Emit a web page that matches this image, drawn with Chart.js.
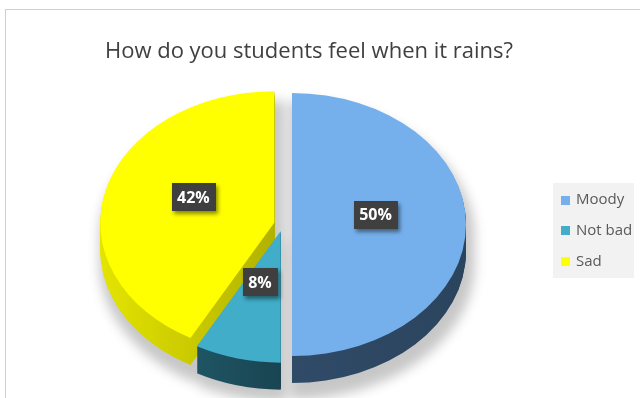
<!DOCTYPE html>
<html>
<head>
<meta charset="utf-8">
<title>How do you students feel when it rains?</title>
<script src="https://cdn.jsdelivr.net/npm/chart.js@4.4.1/dist/chart.umd.min.js"></script>
<style>
  html, body { margin: 0; padding: 0; background: #ffffff; }
  #wrap { position: relative; width: 640px; height: 398px; overflow: hidden; }
  #frame { position: absolute; left: 5px; top: 9px; width: 700px; height: 500px;
           border: 1px solid #cfcfcf; box-sizing: border-box; }
  #c { position: absolute; left: 0; top: 0; }
</style>
</head>
<body>
<div id="wrap">
  <div id="frame"></div>
  <canvas id="c" width="640" height="398"></canvas>
</div>
<script>
// Survey answers (percent of students)
const categories = ['Moody', 'Not bad', 'Sad'];
const shares = [50, 8, 42];
const chartTitle = 'How do you students feel when it rains?';

// Slice colours: top face, and side wall gradient (left -> right)
const topColors = ['#76b0ec', '#41adc8', '#ffff00'];
const sideColors = [['#304b68', '#2b445e'], ['#236777', '#183d4a'], ['#e4e400', '#a8a800']];

// 3D look
const TILT = 0.756;      // vertical squash of the pie disc
const DEPTH = 27;        // thickness of the disc in pixels
const EXPLODE = 9;       // how far each slice is pulled out
const LABEL_POS = 0.48;  // label distance from centre (fraction of radius)
const LABEL_LIFT = 10;

function slicePath(ctx, el) {
  ctx.beginPath();
  ctx.moveTo(el.x, el.y);
  ctx.arc(el.x, el.y, el.outerRadius, el.startAngle, el.endAngle);
  ctx.closePath();
}

function place(ctx, el, drop, explode) {
  const mid = (el.startAngle + el.endAngle) / 2;
  const e = explode === undefined ? EXPLODE : explode;
  ctx.translate(0, drop);
  ctx.translate(el.x, el.y);
  ctx.scale(1, TILT);
  ctx.translate(-el.x, -el.y);
  ctx.translate(Math.cos(mid) * e, Math.sin(mid) * e);
}

const pie3d = {
  id: 'pie3d',
  beforeDatasetDraw(chart, args) {
    const ctx = chart.ctx;
    const arcs = args.meta.data;
    const w = chart.width, h = chart.height;

    // soft floor shadow
    const off = document.createElement('canvas');
    off.width = w; off.height = h;
    const octx = off.getContext('2d');
    octx.fillStyle = '#000';
    arcs.forEach(el => {
      for (let k = 0; k <= DEPTH; k += 3) {
        octx.save(); place(octx, el, k, 3); slicePath(octx, el); octx.fill(); octx.restore();
      }
    });
    const c0 = arcs[0];
    ctx.save();
    ctx.filter = 'blur(6px)';
    ctx.globalAlpha = 0.22;
    ctx.translate(c0.x + 4, c0.y + 12);
    ctx.scale(1.06, 1.03);
    ctx.translate(-c0.x, -c0.y);
    ctx.drawImage(off, 0, 0);
    ctx.restore();

    // side walls, back slices first
    const order = [2, 0, 1];
    order.forEach(i => {
      const el = arcs[i];
      if (!el) return;
      const r = el.outerRadius;
      for (let k = DEPTH; k >= 1; k--) {
        ctx.save();
        place(ctx, el, k);
        let g;
        if (i === 0) {
          g = ctx.createLinearGradient(el.x, 0, el.x + r, 0);
        } else {
          g = ctx.createLinearGradient(el.x - r, 0, el.x + r * 0.2, 0);
        }
        g.addColorStop(0, sideColors[i][0]);
        g.addColorStop(1, sideColors[i][1]);
        ctx.fillStyle = g;
        slicePath(ctx, el);
        ctx.fill();
        ctx.restore();
      }
    });

    // top faces, drawn by the arc elements themselves
    arcs.forEach(el => {
      ctx.save();
      place(ctx, el, 0);
      el.draw(ctx);
      ctx.restore();
    });
    return false;
  },
  afterDatasetsDraw(chart) {
    const ctx = chart.ctx;
    const arcs = chart.getDatasetMeta(0).data;
    const values = chart.data.datasets[0].data;
    const total = values.reduce((a, b) => a + b, 0);
    ctx.save();
    ctx.font = 'bold 16px "Open Sans"';
    ctx.textAlign = 'center';
    ctx.textBaseline = 'middle';
    arcs.forEach((el, i) => {
      const mid = (el.startAngle + el.endAngle) / 2;
      const d = EXPLODE + el.outerRadius * LABEL_POS;
      const x = el.x + Math.cos(mid) * d;
      const y = el.y + Math.sin(mid) * d * TILT - LABEL_LIFT;
      const txt = Math.round(values[i] / total * 100) + '%';
      const bw = ctx.measureText(txt).width + 11;
      const bh = 28;
      ctx.save();
      ctx.shadowColor = 'rgba(0,0,0,0.45)';
      ctx.shadowBlur = 4;
      ctx.shadowOffsetX = 2;
      ctx.shadowOffsetY = 3;
      ctx.fillStyle = '#3f3f3f';
      ctx.fillRect(Math.round(x - bw / 2), Math.round(y - bh / 2), Math.round(bw), bh);
      ctx.restore();
      ctx.fillStyle = '#ffffff';
      ctx.fillText(txt, x, y + 1);
    });
    ctx.restore();
  }
};

// title and legend box
const decor = {
  id: 'decor',
  afterDraw(chart) {
    const ctx = chart.ctx;
    const ds = chart.data.datasets[0];
    ctx.save();
    ctx.fillStyle = '#404040';
    ctx.font = '22px "Open Sans"';
    ctx.textAlign = 'center';
    ctx.textBaseline = 'alphabetic';
    ctx.fillText(chartTitle, 309, 58);

    // legend
    ctx.fillStyle = '#f2f2f2';
    ctx.fillRect(553, 183, 81, 95);
    ctx.font = '15px "Open Sans"';
    ctx.textAlign = 'left';
    ctx.textBaseline = 'middle';
    chart.data.labels.forEach((lab, i) => {
      const cy = 200 + i * 30.8;
      ctx.fillStyle = ds.backgroundColor[i];
      ctx.fillRect(561, Math.round(cy - 4.5), 9, 9);
      ctx.fillStyle = '#595959';
      ctx.fillText(lab, 576, cy);
    });
    ctx.restore();
  }
};

new Chart(document.getElementById('c'), {
  type: 'pie',
  data: {
    labels: categories,
    datasets: [{
      data: shares,
      backgroundColor: topColors,
      borderWidth: 0,
      radius: 174,
      clip: false
    }]
  },
  options: {
    responsive: false,
    animation: false,
    events: [],
    layout: { padding: { left: 0, right: 74, top: 52, bottom: 1 } },
    plugins: {
      legend: { display: false },
      title: { display: false },
      tooltip: { enabled: false }
    }
  },
  plugins: [pie3d, decor]
});
</script>
</body>
</html>
